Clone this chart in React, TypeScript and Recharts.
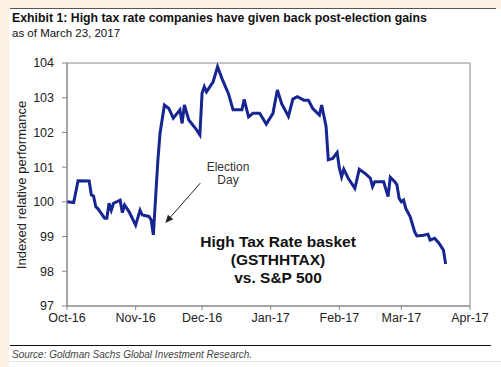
import { LineChart, Line, XAxis, YAxis, ReferenceArea, ReferenceLine } from 'recharts';

// days since 1 Oct 2016
const days = [
  0, 3, 5, 10, 11, 12, 13, 14, 17, 18, 19, 20, 21, 24, 25, 26, 28, 31, 33, 34, 37, 38, 39,
  41, 42, 44, 46, 48, 51, 52, 53, 55, 58, 60, 61, 62, 63, 66, 68, 70, 73, 75, 79, 80, 82, 84,
  87, 90, 93, 95, 97, 100, 102, 104, 107, 109, 111, 114, 115, 117, 118, 120, 122, 123, 124,
  125, 127, 130, 132, 135, 137, 138, 139, 143, 145, 146, 148, 149, 150, 151, 152, 153, 155,
  157, 158, 161, 163, 164, 166, 168, 170, 171,
];

const values = [
  100.0, 99.98, 100.61, 100.6, 100.2, 100.17, 99.86, 99.8, 99.53, 99.53, 99.96, 99.76, 99.96,
  100.05, 99.69, 99.91, 99.72, 99.33, 99.76, 99.62, 99.58, 99.48, 99.05,
  101.16, 101.97, 102.79, 102.69, 102.41, 102.65, 102.26, 102.79, 102.36, 102.12, 101.93,
  103.13, 103.32, 103.17, 103.46, 103.89, 103.55, 103.1, 102.65, 102.65, 102.95, 102.45,
  102.55, 102.55, 102.24, 102.55, 103.22, 102.82, 102.46, 102.96, 103.03, 102.93, 102.93,
  102.69, 102.5, 102.79, 102.17, 101.21, 101.25, 101.42, 100.97, 100.72, 100.94, 100.68,
  100.39, 100.94, 100.8, 100.68, 100.44, 100.58, 100.58, 100.15, 100.71, 100.58, 100.49,
  100.1, 100.0, 100.05, 99.81, 99.57, 99.14, 99.02, 99.04, 99.07, 98.9, 98.95, 98.81, 98.61,
  98.21,
];

const monthTicks = [0, 31, 61, 92, 123, 151, 182];
const monthLabels = ['Oct-16', 'Nov-16', 'Dec-16', 'Jan-17', 'Feb-17', 'Mar-17', 'Apr-17'];
const yTicks = [97, 98, 99, 100, 101, 102, 103, 104];

const data = days.map((d, i) => ({ day: d, value: values[i] }));

const font = '"Liberation Sans", Arial, sans-serif';

function Arrow(props: any) {
  const { x1, y1, x2, y2 } = props;
  const a = Math.atan2(y2 - y1, x2 - x1);
  const len = 8;
  const w = 3.5;
  const bx = x2 - len * Math.cos(a);
  const by = y2 - len * Math.sin(a);
  const px = -Math.sin(a) * w;
  const py = Math.cos(a) * w;
  return (
    <g>
      <line x1={x1} y1={y1} x2={bx} y2={by} stroke="#222" strokeWidth={1} />
      <polygon points={`${x2},${y2} ${bx + px},${by + py} ${bx - px},${by - py}`} fill="#222" />
    </g>
  );
}

export default function App() {
  return (
    <div
      style={{
        position: 'absolute',
        left: 0,
        top: 0,
        width: 501,
        height: 367,
        background: '#fcefe3',
        fontFamily: font,
        overflow: 'hidden',
      }}
    >
      <div style={{ position: 'absolute', left: 9, top: 9, width: 492, height: 358, background: '#fff' }} />
      <div style={{ position: 'absolute', left: 10, top: 7.5, width: 486, height: 1.5, background: '#555' }} />
      <div style={{ position: 'absolute', left: 10, top: 344.5, width: 481, height: 1.5, background: '#111' }} />
      <div style={{ position: 'absolute', left: 9, top: 361, width: 492, height: 1, background: '#e4e4e4' }} />

      <div style={{ position: 'absolute', left: 0, top: 0 }}>
        <LineChart
          width={501}
          height={367}
          data={data}
          margin={{ top: 63, right: 31, bottom: 31, left: 17 }}
          style={{ fontFamily: font }}
        >
          <XAxis
            dataKey="day"
            type="number"
            domain={[0, 182]}
            ticks={monthTicks}
            tickFormatter={(v: number) => monthLabels[monthTicks.indexOf(v)]}
            tickSize={4}
            tickMargin={3}
            height={30}
            stroke="#888"
            tick={{ fill: '#222', fontSize: 12.5 }}
            interval={0}
          />
          <YAxis
            type="number"
            domain={[97, 104]}
            ticks={yTicks}
            tickSize={5}
            tickMargin={8}
            width={50}
            stroke="#888"
            tick={{ fill: '#222', fontSize: 12.5 }}
            interval={0}
          />
          <ReferenceArea x1={0} x2={182} y1={97} y2={104} fill="none" stroke="#888" strokeWidth={1} />
          <ReferenceLine
            segment={[
              { x: 60.2, y: 100.54 },
              { x: 44.4, y: 99.39 },
            ]}
            shape={Arrow}
          />
          <Line
            type="linear"
            dataKey="value"
            stroke="#172591"
            strokeWidth={3}
            dot={false}
            isAnimationActive={false}
          />
        </LineChart>
      </div>

      <svg width={501} height={367} style={{ position: 'absolute', left: 0, top: 0, pointerEvents: 'none' }}>
        <text x={12} y={21.5} fontSize={12.3} fontWeight="bold" fill="#111">
          Exhibit 1: High tax rate companies have given back post-election gains
        </text>
        <text x={12} y={36.5} fontSize={11.5} fill="#111">
          as of March 23, 2017
        </text>
        <text x={12} y={357.5} fontSize={10} fontStyle="italic" fill="#444">
          Source: Goldman Sachs Global Investment Research.
        </text>
        <text x={26} y={185} fontSize={13} fill="#222" textAnchor="middle" transform="rotate(-90 26 185)">
          Indexed relative performance
        </text>
        <text x={228} y={170.5} fontSize={12} fill="#333" textAnchor="middle">
          Election
        </text>
        <text x={228} y={184} fontSize={12} fill="#333" textAnchor="middle">
          Day
        </text>
        <g fontSize={15.5} fontWeight="bold" fill="#111" textAnchor="middle">
          <text x={278} y={246.5}>High Tax Rate basket</text>
          <text x={278} y={264.5}>(GSTHHTAX)</text>
          <text x={278} y={282.5}>vs. S&amp;P 500</text>
        </g>
      </svg>
    </div>
  );
}
